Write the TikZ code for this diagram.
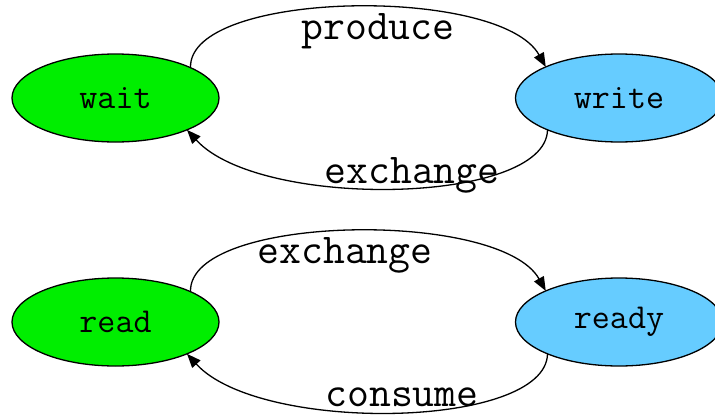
\documentclass[tikz,border=0pt]{standalone}
\usepackage{fontspec}
\usetikzlibrary{arrows.meta,shapes.geometric}
\definecolor{ngreen}{HTML}{00EE00}
\definecolor{nblue}{HTML}{66CCFF}
\begin{document}
\begin{tikzpicture}[x=1pt,y=-1pt,
  state/.style={ellipse,draw=black,line width=1.3pt,inner sep=0pt,outer sep=0pt,
    minimum width=207pt,minimum height=88pt,font=\ttfamily\fontsize{35}{37}\selectfont},
  greenst/.style={state,fill=ngreen},
  bluest/.style={state,fill=nblue},
  edge/.style={draw=black,line width=1.3pt,-{Triangle[length=14pt,width=11pt]}},
  elabel/.style={inner sep=0pt,font=\ttfamily\fontsize{42.5}{44}\selectfont}]
\useasboundingbox (0,0) rectangle (715,415);
\node[greenst] (wait) at (115.5,98) {\raisebox{-2pt}{wait}};
\node[bluest] (write) at (619,98) {\raisebox{-2pt}{write}};
\node[greenst] (read) at (115.5,322) {\raisebox{-2pt}{read}};
\node[bluest] (ready) at (619,322) {\raisebox{-2pt}{ready}};
\draw[edge] (wait.22) .. controls (188,-10) and (500,-15) .. (write.157);
\draw[edge] (write.204) .. controls (546,205) and (260,210) .. (wait.-24);
\draw[edge] (read.22) .. controls (188,214) and (500,209) .. (ready.157);
\draw[edge] (ready.204) .. controls (546,429) and (260,434) .. (read.-24);
\node[elabel] (lp) at (378,31) {produce};
\node[elabel] (le1) at (412,175) {exchange};
\node[elabel] (le2) at (345,255) {exchange};
\node[elabel] (lc) at (402,397) {consume};
\end{tikzpicture}
\end{document}
